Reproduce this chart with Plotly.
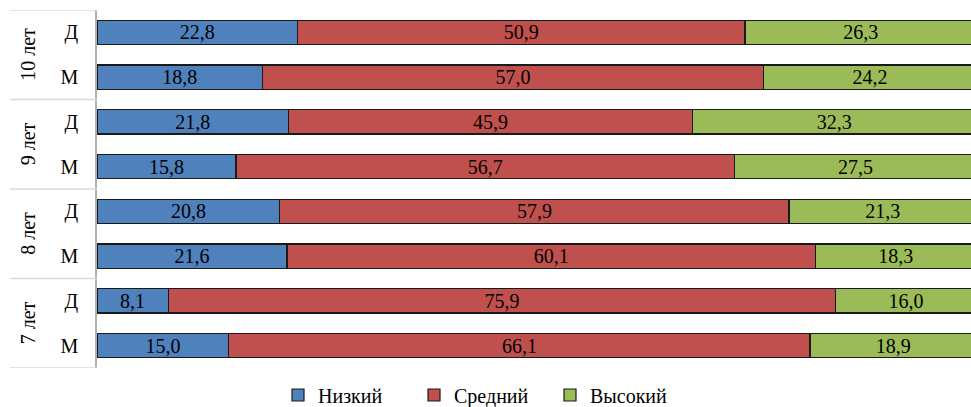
import plotly.graph_objects as go

ages = ["10 лет", "9 лет", "8 лет", "7 лет"]
sexes = ["Д", "М"]
series_names = ["Низкий", "Средний", "Высокий"]
low = [22.8, 18.8, 21.8, 15.8, 20.8, 21.6, 8.1, 15.0]
mid = [50.9, 57.0, 45.9, 56.7, 57.9, 60.1, 75.9, 66.1]
high = [26.3, 24.2, 32.3, 27.5, 21.3, 18.3, 16.0, 18.9]

colors = ["#4F81BD", "#C0504D", "#9BBB59"]
FONT = "Liberation Serif, DejaVu Serif, serif"

rows = [(a, s) for a in ages for s in sexes]
ypos = list(range(len(rows)))

fig = go.Figure()
for name, vals, col in zip(series_names, [low, mid, high], colors):
    fig.add_trace(go.Bar(
        y=ypos, x=vals, name=name, orientation="h",
        marker=dict(color=col, line=dict(color="#1a1a1a", width=1.2)),
        texttemplate="%{x:.1f}", textposition="inside",
        insidetextanchor="middle", textangle=0, constraintext="none",
        textfont=dict(family=FONT, size=20, color="black"),
        hoverinfo="skip",
    ))

L, R, T, B = 97, 0, 10, 39
W, H = 971, 407
pw = W - L - R
ph = H - T - B

shapes = []
# group dividers in the label area
for g in range(len(ages) + 1):
    yb = g * len(sexes) - 0.5
    shapes.append(dict(type="line", xref="paper", yref="y",
                       x0=(10 - L) / pw, x1=0, y0=yb, y1=yb,
                       line=dict(color="#d9d9d9", width=1.5)))

annotations = []
for g, a in enumerate(ages):
    yc = g * len(sexes) + (len(sexes) - 1) / 2
    annotations.append(dict(text=a, xref="paper", yref="y",
                            x=(28 - L) / pw, y=yc, textangle=-90,
                            showarrow=False, xanchor="center", yanchor="middle",
                            font=dict(family=FONT, size=20, color="black")))

fig.update_layout(
    width=W, height=H,
    margin=dict(l=L, r=R, t=T, b=B, pad=0, autoexpand=False),
    barmode="stack", bargap=0.46,
    separators=", ",
    plot_bgcolor="white", paper_bgcolor="white",
    font=dict(family=FONT, size=20, color="black"),
    xaxis=dict(range=[0, 99.4], showgrid=False, zeroline=False,
               showticklabels=False, showline=False, fixedrange=True,
               automargin=False),
    yaxis=dict(range=[len(rows) - 0.5, -0.5], tickvals=ypos,
               ticktext=[s for _, s in rows], showgrid=False, zeroline=False,
               showline=True, linecolor="#b0b0b0", linewidth=1.5,
               ticks="", ticklabelstandoff=13, automargin=False,
               tickfont=dict(family=FONT, size=20, color="black")),
    legend=dict(orientation="h", x=(278 - L) / pw, xanchor="left",
                y=-(395 - (T + ph)) / ph, yanchor="middle",
                font=dict(family=FONT, size=20, color="black"),
                itemwidth=30, entrywidth=91, entrywidthmode="pixels",
                traceorder="normal"),
    shapes=shapes, annotations=annotations,
    showlegend=True,
)

fig.write_html("out.html", config={"displayModeBar": False},
               post_script="document.body.style.margin='0';document.body.style.overflow='hidden';")
